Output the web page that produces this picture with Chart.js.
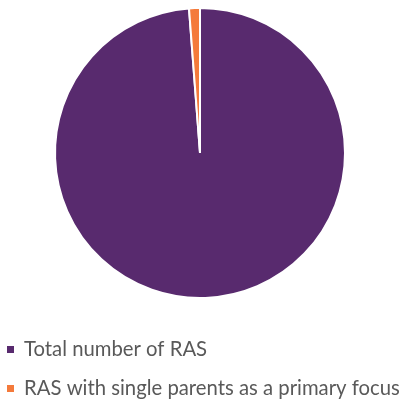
<!DOCTYPE html>
<html>
<head>
<meta charset="utf-8">
<script src="https://cdn.jsdelivr.net/npm/chart.js@4"></script>
<style>
  html, body { margin: 0; padding: 0; background: #fff; }
  #wrap { width: 409px; height: 402px; position: relative; }
</style>
</head>
<body>
<div id="wrap"><canvas id="chart"></canvas></div>
<script>
const labels = ['Total number of RAS', 'RAS with single parents as a primary focus'];
const values = [245, 3];
const colors = ['#582A6E', '#F47A3B'];

// legend drawn by hand so the rows can sit further apart than the built-in one allows
const sideLegend = {
  id: 'sideLegend',
  afterDraw(chart) {
    const ctx = chart.ctx;
    const ds = chart.data.datasets[0];
    ctx.save();
    ctx.font = '20.3px Lato';
    ctx.textBaseline = 'middle';
    chart.data.labels.forEach((txt, i) => {
      const y = 349.5 + i * 39;
      ctx.fillStyle = ds.backgroundColor[i];
      ctx.fillRect(7, y - 3.5, 7, 7);
      ctx.fillStyle = '#595959';
      ctx.fillText(txt, 24, y);
    });
    ctx.restore();
  }
};

new Chart(document.getElementById('chart'), {
  type: 'pie',
  data: {
    labels: labels,
    datasets: [{
      data: values,
      backgroundColor: colors,
      borderColor: '#ffffff',
      borderWidth: 2
    }]
  },
  options: {
    responsive: true,
    maintainAspectRatio: false,
    animation: false,
    layout: { padding: { top: 7, left: 0, right: 9, bottom: 103 } },
    plugins: {
      legend: { display: false },
      tooltip: { enabled: false }
    }
  },
  plugins: [sideLegend]
});
</script>
</body>
</html>
